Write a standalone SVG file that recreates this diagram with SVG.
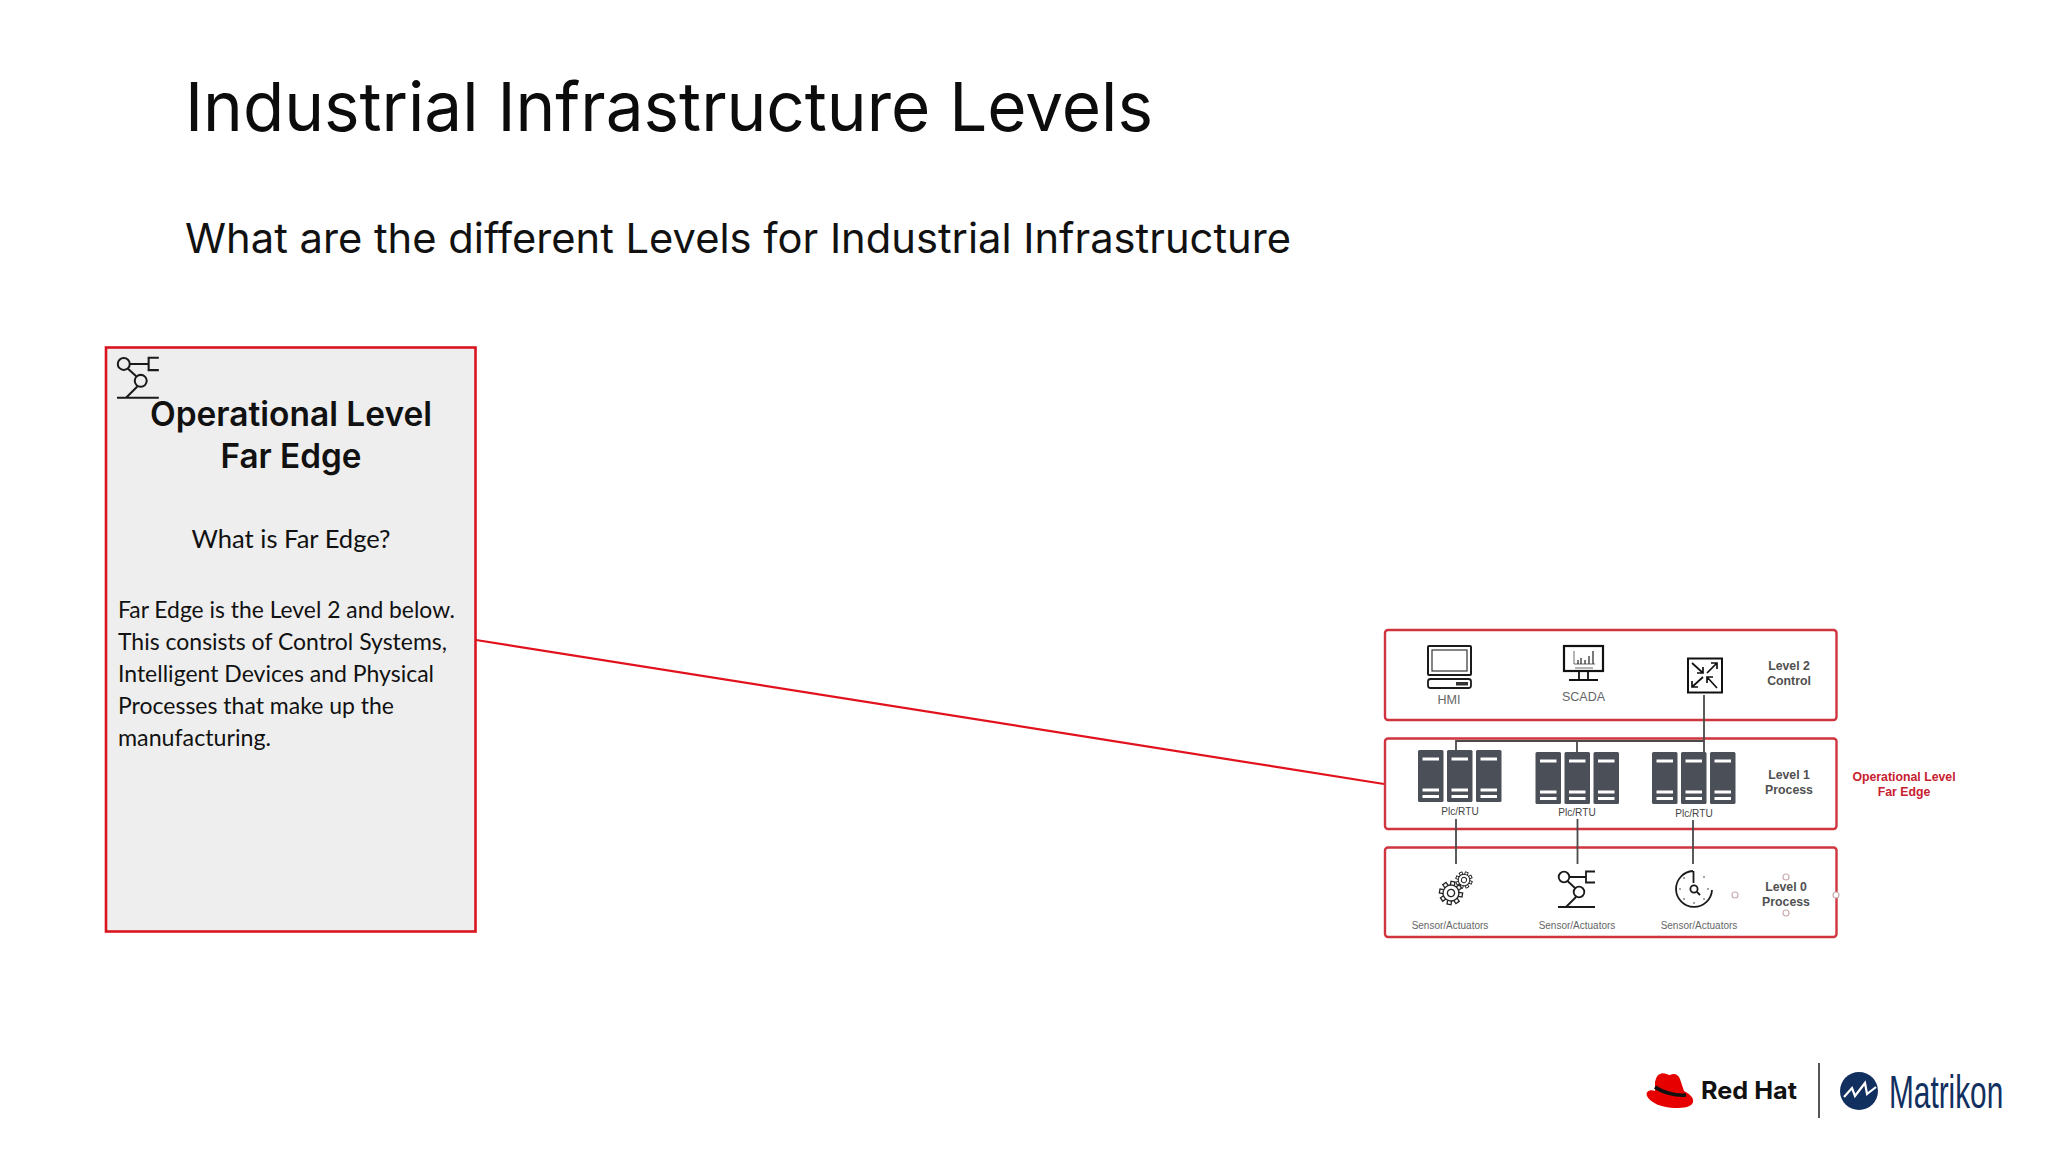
<svg xmlns="http://www.w3.org/2000/svg" xmlns:xlink="http://www.w3.org/1999/xlink" width="2048" height="1152" viewBox="0 0 2048 1152">
<style>
text{font-family:"Lato","Liberation Sans",sans-serif;fill:#111}
.t{font-family:"Inter","Liberation Sans",sans-serif;font-size:68px;font-weight:400;fill:#0c0c0c}
.s{font-family:"Inter","Liberation Sans",sans-serif;font-size:41px;font-weight:400;fill:#111}
.h{font-family:"Inter","Liberation Sans",sans-serif;font-size:33.500px;font-weight:600;text-anchor:middle}
.q{font-size:25px;text-anchor:middle}
.b{font-size:23.500px}
.lab{font-family:"Liberation Sans",Arial,sans-serif;fill:#666;text-anchor:middle}
.plc{fill:#444}
.lv{font-family:"Liberation Sans",Arial,sans-serif;font-weight:700;font-size:12.300px;fill:#505050;text-anchor:middle}
.red{font-family:"Liberation Sans",Arial,sans-serif;font-weight:700;font-size:12.300px;fill:#c8202f;text-anchor:middle}
.level{fill:#fff;stroke:#d0353f;stroke-width:2.400}
.conn{fill:none;stroke:#4a4a4a;stroke-width:1.800}
.ic{fill:none;stroke:#1a1a1a;stroke-width:1.800}
.dot{fill:#fff;stroke:#c9aeb0;stroke-width:1.200}
.gear{fill:#fff;stroke:#222;stroke-width:1.300}
</style>
<defs>
<g id="srv"><rect width="25.500" height="52" rx="1.500" fill="#4b4f57"/><g fill="#fff"><rect x="4.500" y="7.500" width="16.500" height="3"/><rect x="4.500" y="38.500" width="16.500" height="3"/><rect x="4.500" y="45" width="16.500" height="3"/></g></g>
<g id="rack"><use xlink:href="#srv"/><use xlink:href="#srv" x="29"/><use xlink:href="#srv" x="58"/></g>
<g id="robot" fill="none" stroke="#1a1a1a" stroke-width="1.800"><circle cx="6" cy="7" r="5.300"/><circle cx="21" cy="22" r="5.300"/><path d="M0 37H37M9.500 11 17 18M11.500 7H28M37 1.500H28V12.500H37M18 27 8 37"/></g>
<rect id="tooth" class="gear" x="-2" y="-11.500" width="4" height="4.500"/>
<g id="gearshape">
<use xlink:href="#tooth"/><use xlink:href="#tooth" transform="rotate(45)"/><use xlink:href="#tooth" transform="rotate(90)"/><use xlink:href="#tooth" transform="rotate(135)"/><use xlink:href="#tooth" transform="rotate(180)"/><use xlink:href="#tooth" transform="rotate(225)"/><use xlink:href="#tooth" transform="rotate(270)"/><use xlink:href="#tooth" transform="rotate(315)"/>
<circle class="gear" r="8"/><circle class="gear" r="3.600"/>
</g>
</defs>
<rect width="2048" height="1152" fill="#fff"/>
<text class="t" x="185" y="131" textLength="968" lengthAdjust="spacingAndGlyphs">Industrial Infrastructure Levels</text>
<text class="s" x="185" y="253" textLength="1106" lengthAdjust="spacingAndGlyphs">What are the different Levels for Industrial Infrastructure</text>

<g id="connectors">
<path d="M476 640 1384 784" fill="none" stroke="#e2121d" stroke-width="2.200"/>
</g>

<g id="card">
<rect x="106" y="347.500" width="369.500" height="584" fill="#eeeeee" stroke="#d9141e" stroke-width="2.600"/>
<use xlink:href="#robot" transform="translate(117 356) scale(1.13)"/>
<text class="h" x="291" y="426" textLength="282" lengthAdjust="spacingAndGlyphs">Operational Level</text>
<text class="h" x="291" y="468" textLength="141" lengthAdjust="spacingAndGlyphs">Far Edge</text>
<text class="q" x="291" y="548" textLength="199" lengthAdjust="spacingAndGlyphs">What is Far Edge?</text>
<text class="b" x="118" y="618" textLength="337" lengthAdjust="spacingAndGlyphs">Far Edge is the Level 2 and below.</text>
<text class="b" x="118" y="650" textLength="329" lengthAdjust="spacingAndGlyphs">This consists of Control Systems,</text>
<text class="b" x="118" y="682" textLength="316" lengthAdjust="spacingAndGlyphs">Intelligent Devices and Physical</text>
<text class="b" x="118" y="714" textLength="276" lengthAdjust="spacingAndGlyphs">Processes that make up the</text>
<text class="b" x="118" y="746" textLength="153" lengthAdjust="spacingAndGlyphs">manufacturing.</text>
</g>

<g id="level2"><rect class="level" x="1385" y="630" width="451.500" height="90" rx="3"/><text class="lv" x="1789" y="670">Level 2</text><text class="lv" x="1789" y="685">Control</text></g>
<g id="level1"><rect class="level" x="1385" y="738.500" width="451.500" height="90.500" rx="3"/><text class="lv" x="1789" y="779">Level 1</text><text class="lv" x="1789" y="794">Process</text></g>
<g id="level0"><rect class="level" x="1385" y="847.500" width="451.500" height="89.500" rx="3"/><text class="lv" x="1786" y="891">Level 0</text><text class="lv" x="1786" y="906">Process</text></g>
<g id="edge-label"><text class="red" x="1904" y="781">Operational Level</text><text class="red" x="1904" y="796">Far Edge</text></g>

<g id="hmi">
<rect x="1428" y="646" width="43" height="29" rx="1" fill="none" stroke="#1a1a1a" stroke-width="2"/><rect x="1432" y="650" width="35" height="21" fill="none" stroke="#333" stroke-width="1.200"/>
<rect class="ic" x="1428" y="679" width="43" height="9" rx="2.500"/><rect x="1456" y="682" width="12" height="3.500" fill="#333"/>
<text class="lab" x="1449" y="704" font-size="12.500">HMI</text>
</g>
<g id="scada">
<rect x="1564" y="646" width="39" height="25" fill="#fff" stroke="#111" stroke-width="2.200"/>
<path d="M1574 651V664H1595M1575 668H1593" fill="none" stroke="#444" stroke-width="0.800"/>
<path d="M1578 664V660M1581 664V658M1585 664V660M1589 664V656M1593 664V651" stroke="#333" stroke-width="1.300"/>
<path d="M1579 671V680M1588 671V680M1569 680H1598" fill="none" stroke="#111" stroke-width="1.800"/>
<text class="lab" x="1583.500" y="701" font-size="12.500">SCADA</text>
</g>
<g id="switch">
<rect x="1688" y="658.500" width="34" height="34" fill="#fff" stroke="#111" stroke-width="2"/>
<path d="M1692 663 1703 673M1703 667V673H1697M1707 673 1717 663M1711 663H1717V669M1703 677 1692 687M1692 681V687H1698M1717 688 1707 677M1707 683V677H1713" fill="none" stroke="#111" stroke-width="1.700"/>
</g>

<g id="connectors-bus">
<path class="conn" d="M1456 751V741H1704M1577 741V752M1704 695V752M1456 819V864M1577.500 819V864M1693 820V864"/>
</g>

<g id="plc1"><use xlink:href="#rack" x="1418" y="750"/><text class="lab plc" x="1460" y="815" font-size="10.100">Plc/RTU</text></g>
<g id="plc2"><use xlink:href="#rack" x="1535.500" y="752"/><text class="lab plc" x="1577" y="816" font-size="10.100">Plc/RTU</text></g>
<g id="plc3"><use xlink:href="#rack" x="1652" y="752"/><text class="lab plc" x="1694" y="817" font-size="10.100">Plc/RTU</text></g>

<g id="gears">
<use xlink:href="#gearshape" transform="translate(1464 880) rotate(20) scale(.72)"/>
<use xlink:href="#gearshape" transform="translate(1451 893) rotate(10)"/>
<text class="lab" x="1450" y="929" font-size="10">Sensor/Actuators</text>
</g>
<g id="robot-arm"><use xlink:href="#robot" transform="translate(1558 870)"/><text class="lab" x="1577" y="929" font-size="10">Sensor/Actuators</text></g>
<g id="gauge">
<path class="ic" d="M1693.500 871V883M1693 871A18 18 0 1 0 1712 890"/>
<circle cx="1694" cy="889" r="3.600" fill="none" stroke="#1a1a1a" stroke-width="1.800"/>
<path class="ic" d="M1697 892 1700 895"/>
<g fill="#333"><circle cx="1704" cy="877" r=".8"/><circle cx="1680" cy="889" r=".8"/><circle cx="1708" cy="889" r=".8"/><circle cx="1694" cy="903" r=".8"/><circle cx="1684" cy="899" r=".8"/><circle cx="1704" cy="899" r=".8"/><circle cx="1684" cy="878" r=".8"/></g>
<text class="lab" x="1699" y="929" font-size="10">Sensor/Actuators</text>
</g>
<g id="handles"><circle class="dot" cx="1735" cy="895" r="3"/><circle class="dot" cx="1786" cy="877" r="3"/><circle class="dot" cx="1786" cy="913" r="3"/><circle class="dot" cx="1836" cy="895" r="3"/></g>

<g id="logos">
<path d="M1660 1074C1664 1072 1667 1075 1670 1075C1674 1073 1678 1074 1680 1079L1684 1091C1690 1094 1694 1098 1693 1102C1692 1107 1684 1108 1675 1108C1663 1108 1650 1103 1647 1096C1645 1091 1651 1089 1655 1091L1655 1082C1656 1078 1657 1075 1660 1074Z" fill="#e60000"/>
<path d="M1655 1087C1662 1092 1675 1096 1686 1095" fill="none" stroke="#111" stroke-width="3.500"/>
<text x="1701" y="1099" font-size="24" font-weight="700" textLength="96" lengthAdjust="spacingAndGlyphs" style="font-family:'Inter','Liberation Sans',sans-serif">Red Hat</text>
<rect x="1818" y="1063" width="2" height="55" fill="#555"/>
<circle cx="1859" cy="1091" r="19" fill="#12305f"/>
<path d="M1844 1097 1852 1088 1855 1096 1865 1083 1867 1094 1876 1087" fill="none" stroke="#fff" stroke-width="2.200"/>
<text transform="translate(1889 1108) scale(.648 1)" font-size="46" style="font-family:'Liberation Sans',sans-serif;fill:#12305f">Matrikon</text>
</g>
</svg>
